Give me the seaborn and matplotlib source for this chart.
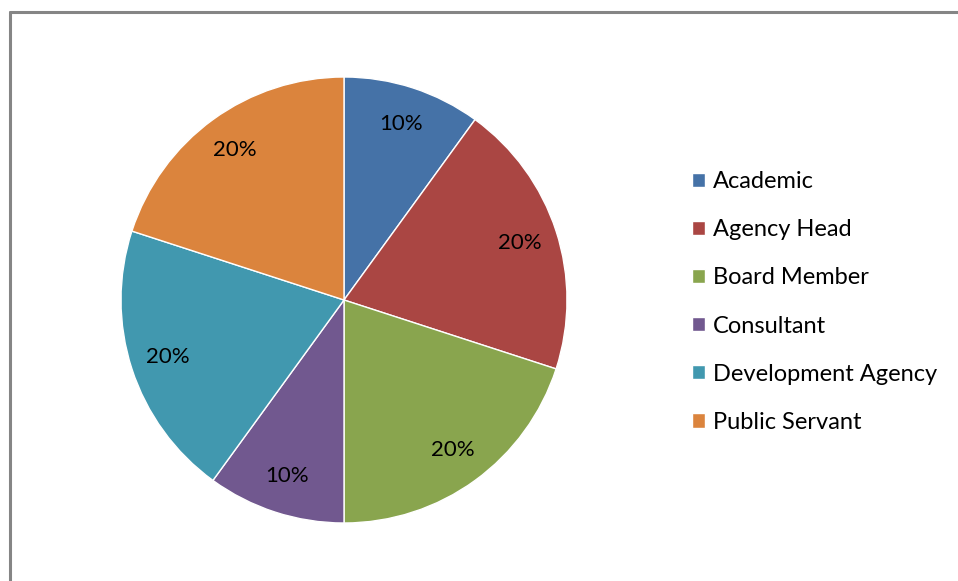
import matplotlib
matplotlib.use("Agg")
import matplotlib.pyplot as plt
import seaborn as sns
from matplotlib.lines import Line2D

categories = ["Academic", "Agency Head", "Board Member", "Consultant",
              "Development Agency", "Public Servant"]
shares = [10, 20, 20, 10, 20, 20]
colors = ["#4572A7", "#AA4643", "#89A54E", "#71588F", "#4198AF", "#DB843D"]

sns.set_theme(style="white")
plt.rcParams['font.family'] = ['Lato', 'DejaVu Sans']

fig = plt.figure(figsize=(9.58, 5.81), dpi=100)
ax = fig.add_axes([121 / 958, 58 / 581, 446 / 958, 446 / 581])

wedges, texts, autotexts = ax.pie(
    shares, colors=colors, startangle=90, counterclock=False,
    autopct="%1.0f%%", pctdistance=0.83, radius=1,
    wedgeprops=dict(edgecolor="white", linewidth=1),
    textprops=dict(fontsize=16, color="black"))
ax.set_xlim(-1, 1)
ax.set_ylim(-1, 1)
ax.set_aspect("equal")

ax.legend(wedges, categories, loc="center left",
          bbox_to_anchor=(680 / 958, 1 - 302 / 581), bbox_transform=fig.transFigure,
          frameon=False, fontsize=17, handlelength=0.55, handleheight=0.55,
          handletextpad=0.35, labelspacing=1.15, borderpad=0, labelcolor="black")

# chart frame (only top and left edges visible)
fig.add_artist(Line2D([9.5 / 958, 9.5 / 958], [0, 1 - 12 / 581], color="#858585", linewidth=2.2))
fig.add_artist(Line2D([9.5 / 958, 1], [1 - 12 / 581, 1 - 12 / 581], color="#858585", linewidth=2.2))

fig.savefig("out.png", dpi=100, facecolor="white")
